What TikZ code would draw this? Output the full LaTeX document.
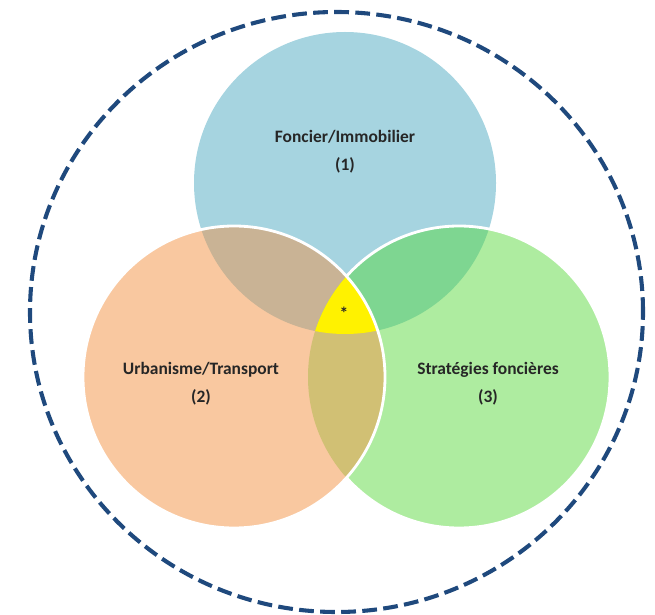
\documentclass[tikz,border=0pt]{standalone}
\usepackage{fontspec}
\setmainfont{Carlito}
\definecolor{fonblue}{RGB}{166,212,224}
\definecolor{urbpeach}{RGB}{249,200,160}
\definecolor{strgreen}{RGB}{174,236,160}
\definecolor{mixfonurb}{RGB}{201,179,149}
\definecolor{mixfonstr}{RGB}{126,214,145}
\definecolor{mixurbstr}{RGB}{209,192,116}
\definecolor{coreyellow}{RGB}{255,242,0}
\definecolor{ringblue}{RGB}{31,73,125}
\definecolor{textdark}{RGB}{38,38,38}
\begin{document}
\begin{tikzpicture}[
      x=0.25mm, y=0.25mm,
      venntext/.style={font=\bfseries\fontsize{12.4}{20}\selectfont, text=textdark, align=center},
      rim/.style={white, line width=2pt},
      ring/.style={ringblue, line width=2.9pt, dash pattern=on 10.5pt off 4.5pt}
    ]
      \useasboundingbox (0,0) rectangle (655,614);
      \def\rad{151}
      \coordinate (cfon) at (345,431);
      \coordinate (curb) at (234,237);
      \coordinate (cstr) at (459,237);

      % discs
      \fill[fonblue] (cfon) circle (\rad);
      \fill[strgreen] (cstr) circle (\rad);
      \fill[urbpeach] (curb) circle (\rad);

      % overlaps
      \begin{scope}
        \clip (cfon) circle (\rad);
        \fill[mixfonurb] (curb) circle (\rad);
        \fill[mixfonstr] (cstr) circle (\rad);
      \end{scope}
      \begin{scope}
        \clip (curb) circle (\rad);
        \fill[mixurbstr] (cstr) circle (\rad);
        \clip (cstr) circle (\rad);
        \fill[coreyellow] (cfon) circle (\rad);
      \end{scope}

      % white rims
      \begin{scope}[even odd rule]
        \clip (0,0) rectangle (655,614) (curb) circle (\rad);
        \draw[rim] (cstr) circle (\rad);
      \end{scope}
      \draw[rim] (curb) circle (\rad);

      % outer ring
      \draw[ring] (336.5,302) ellipse [x radius=306.5, y radius=300];

      % labels
      \node[venntext] (fon) at (345,462) {Foncier/Immobilier\\(1)};
      \node[venntext] (urb) at (201,230) {Urbanisme/Transport\\(2)};
      \node[venntext] (str) at (488,230) {Stratégies foncières\\(3)};
      \node[venntext] (core) at (344,301) {*};
    \end{tikzpicture}
\end{document}
